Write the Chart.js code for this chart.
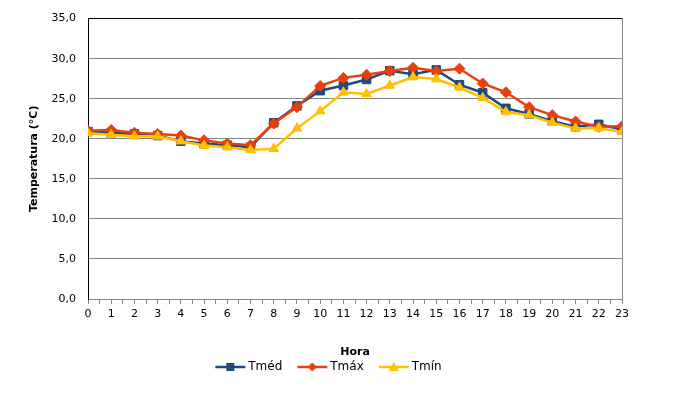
<!DOCTYPE html>
<html>
<head>
<meta charset="utf-8">
<script src="https://cdn.jsdelivr.net/npm/chart.js@4/dist/chart.umd.min.js"></script>
<style>
  html, body { margin: 0; padding: 0; background: #fff; }
  #wrap { width: 677px; height: 403px; }
</style>
</head>
<body>
<div id="wrap"><canvas id="tempChart"></canvas></div>
<script>
var horas = [0, 1, 2, 3, 4, 5, 6, 7, 8, 9, 10, 11, 12, 13, 14, 15, 16, 17, 18, 19, 20, 21, 22, 23];
var tmed = [20.9, 20.75, 20.6, 20.4, 19.7, 19.4, 19.2, 18.95, 22.0, 24.1, 26.0, 26.65, 27.4, 28.5, 28.05, 28.6, 26.75, 25.75, 23.8, 23.1, 22.2, 21.5, 21.8, 21.15];
var tmax = [21.0, 21.1, 20.75, 20.6, 20.4, 19.8, 19.4, 19.2, 21.9, 23.95, 26.6, 27.6, 28.0, 28.45, 28.85, 28.45, 28.75, 26.9, 25.8, 23.95, 22.95, 22.15, 21.5, 21.55];
var tmin = [20.7, 20.5, 20.3, 20.3, 19.7, 19.15, 18.95, 18.6, 18.75, 21.3, 23.45, 25.8, 25.6, 26.65, 27.7, 27.45, 26.4, 25.1, 23.35, 22.95, 22.0, 21.3, 21.3, 20.85];
var yTicks = [0, 5, 10, 15, 20, 25, 30, 35];

Chart.defaults.font.family = "'DejaVu Sans', Verdana, sans-serif";
Chart.defaults.font.size = 11;
Chart.defaults.color = "#000";

function pts(vals) {
  return horas.map(function (h, i) { return { x: h, y: vals[i] }; });
}

// legend swatch: short line with the marker in the middle, like Excel
// (transparent margin on the left gives the gap between legend items)
function swatch(color, style) {
  var c = document.createElement("canvas");
  c.width = 48; c.height = 12;
  var ctx = c.getContext("2d");
  ctx.strokeStyle = color; ctx.fillStyle = color; ctx.lineWidth = 2.5;
  ctx.beginPath(); ctx.moveTo(17, 6); ctx.lineTo(47, 6); ctx.stroke();
  ctx.beginPath();
  if (style === "rect") ctx.rect(28, 2, 8, 8);
  else if (style === "rectRot") { ctx.moveTo(32, 1.5); ctx.lineTo(36.5, 6); ctx.lineTo(32, 10.5); ctx.lineTo(27.5, 6); ctx.closePath(); }
  else { ctx.moveTo(32, 1); ctx.lineTo(37, 10); ctx.lineTo(27, 10); ctx.closePath(); }
  ctx.fill();
  return c;
}

var cores = { med: "#1F497D", max: "#E8400C", min: "#FFC000" };

new Chart(document.getElementById("tempChart"), {
  type: "line",
  data: {
    datasets: [{
      label: "Tméd",
      data: pts(tmed),
      borderColor: cores.med, backgroundColor: cores.med,
      borderWidth: 2.5, pointStyle: "rect", pointRadius: 6, pointBorderWidth: 1,
      order: 2, legendImg: swatch(cores.med, "rect")
    }, {
      label: "Tmáx",
      data: pts(tmax),
      borderColor: cores.max, backgroundColor: cores.max,
      borderWidth: 2.5, pointStyle: "rectRot", pointRadius: 5.5, pointBorderWidth: 1,
      order: 1, legendImg: swatch(cores.max, "rectRot")
    }, {
      label: "Tmín",
      data: pts(tmin),
      borderColor: cores.min, backgroundColor: cores.min,
      borderWidth: 2.5, pointStyle: "triangle", pointRadius: 5.5, pointBorderWidth: 1,
      order: 0, legendImg: swatch(cores.min, "triangle")
    }]
  },
  options: {
    responsive: true,
    maintainAspectRatio: false,
    animation: false,
    layout: { padding: { left: 22, right: 55, top: 10, bottom: 20 } },
    plugins: {
      tooltip: { enabled: false },
      legend: {
        position: "bottom",
        labels: {
          usePointStyle: true,
          pointStyleWidth: 40,
          padding: 2,
          font: { size: 12 },
          generateLabels: function (chart) {
            return chart.data.datasets.map(function (ds, i) {
              return { text: ds.label, pointStyle: ds.legendImg, datasetIndex: i, fillStyle: ds.borderColor, strokeStyle: ds.borderColor, lineWidth: 0 };
            });
          }
        }
      }
    },
    scales: {
      x: {
        type: "linear",
        min: 0, max: 23,
        ticks: {
          stepSize: 0.5, autoSkip: false, maxRotation: 0, padding: 4,
          callback: function (v) { return Number.isInteger(v) ? String(v) : ""; }
        },
        grid: { drawOnChartArea: false, color: "#868686", tickLength: 5 },
        border: { color: "#868686" },
        title: { display: true, text: "Hora", font: { weight: "bold", size: 11 }, padding: { top: 14, bottom: 0 } },
        afterFit: function (s) { s.height = 60; }
      },
      y: {
        min: 0, max: 35,
        afterBuildTicks: function (s) { s.ticks = yTicks.map(function (v) { return { value: v }; }); },
        ticks: {
          padding: 12,
          callback: function (v) { return v.toFixed(1).replace(".", ","); }
        },
        grid: {
          drawTicks: false,
          color: function (c) { return c.tick && c.tick.value === 35 ? "#000" : "#868686"; }
        },
        border: { color: "#000" },
        title: { display: true, text: "Temperatura (°C)", font: { weight: "bold", size: 11 }, padding: { top: 6, bottom: 0 } },
        afterFit: function (s) { s.width = 66; }
      },
      y2: {
        position: "right",
        min: 0, max: 35,
        ticks: { display: false },
        grid: { drawOnChartArea: false, drawTicks: false },
        border: { color: "#868686" },
        afterFit: function (s) { s.width = 0; }
      }
    }
  }
});
</script>
</body>
</html>
